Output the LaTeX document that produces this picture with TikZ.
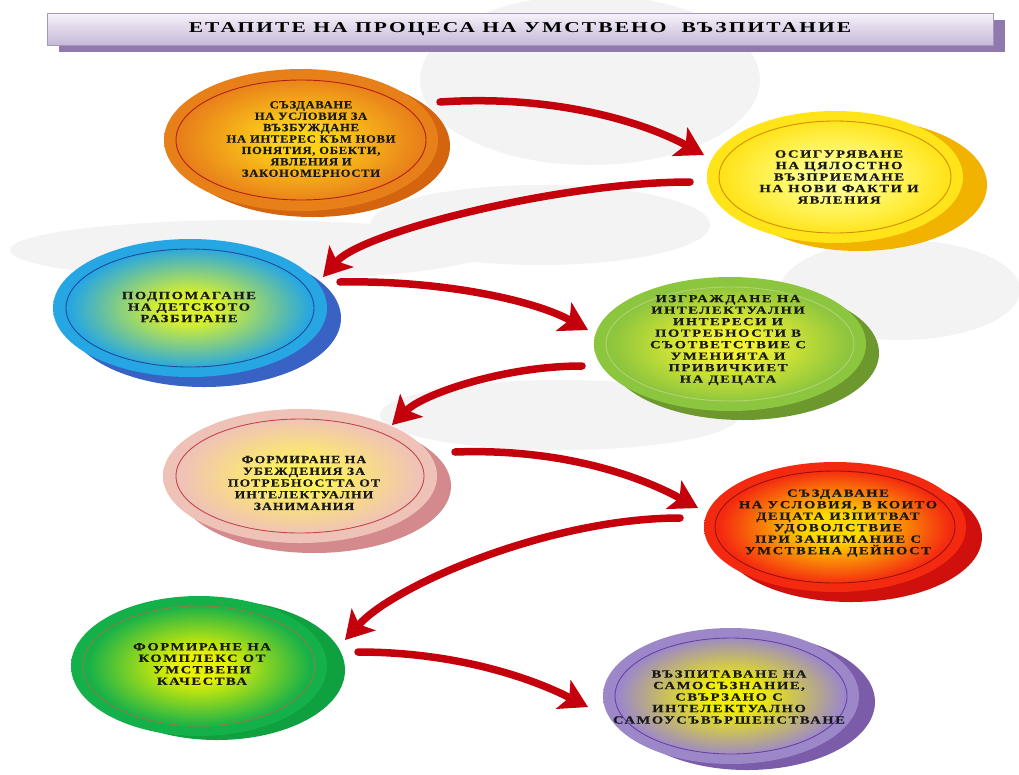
\documentclass[tikz,border=0pt]{standalone}
\usepackage{fontspec}
\setmainfont{Liberation Serif}
\newfontfamily\fontA[FakeStretch=1.15,LetterSpace=6,BoldFeatures={FakeBold=0.4}]{Liberation Serif}
\newfontfamily\fontB[FakeStretch=1.33,LetterSpace=14,BoldFeatures={FakeBold=0.4}]{Liberation Serif}
\newfontfamily\fontC[FakeStretch=1.24,LetterSpace=9.5,BoldFeatures={FakeBold=0.4}]{Liberation Serif}
\newfontfamily\titlefont[FakeStretch=1.43,LetterSpace=14]{Liberation Serif}
\usetikzlibrary{arrows.meta,calc,shadows,shapes.geometric}

\definecolor{arrred}{HTML}{C4000C}
\definecolor{ttop}{HTML}{F6F2FA}
\definecolor{tbot}{HTML}{C6B8D8}
\definecolor{tshadow}{HTML}{8F79AE}
\definecolor{tborder}{HTML}{A898BE}
\definecolor{cloud}{HTML}{F3F3F3}
% ellipse colours: in, rim, back, ring
\definecolor{ain}{HTML}{FFD21A}\definecolor{arim}{HTML}{E8801A}\definecolor{aback}{HTML}{D4650E}\definecolor{aring}{HTML}{B41E10}
\definecolor{bin}{HTML}{FFFF8C}\definecolor{brim}{HTML}{FFE41A}\definecolor{bback}{HTML}{F2B200}\definecolor{bring}{HTML}{D48C00}
\definecolor{cin}{HTML}{DCF22A}\definecolor{crim}{HTML}{26A6E2}\definecolor{cback}{HTML}{3863C4}\definecolor{cring}{HTML}{1E4C96}
\definecolor{din}{HTML}{F2F230}\definecolor{drim}{HTML}{8CC53E}\definecolor{dback}{HTML}{6D982E}\definecolor{dring}{HTML}{B4D274}
\definecolor{ein}{HTML}{FFF060}\definecolor{erim}{HTML}{EFC2B8}\definecolor{eback}{HTML}{D48A8C}\definecolor{ering}{HTML}{C24848}
\definecolor{fin}{HTML}{FFDC00}\definecolor{frim}{HTML}{F42A10}\definecolor{fback}{HTML}{CF100C}\definecolor{fring}{HTML}{9A1010}
\definecolor{gin}{HTML}{E8F200}\definecolor{grim}{HTML}{14B04A}\definecolor{gback}{HTML}{0FA040}\definecolor{gring}{HTML}{8A8040}
\definecolor{hin}{HTML}{F2F000}\definecolor{hrim}{HTML}{9C88C8}\definecolor{hback}{HTML}{7A5CA8}\definecolor{hring}{HTML}{6A40A8}

\newcommand\mkshade[3]{\pgfdeclareradialshading{#1}{\pgfpoint{0bp}{0bp}}{color(0bp)=(#2); color(5bp)=(#2); color(22bp)=(#3); color(50bp)=(#3)}}
\mkshade{sha}{ain}{arim}
\mkshade{shb}{bin}{brim}
\mkshade{shc}{cin}{crim}
\mkshade{shd}{din}{drim}
\mkshade{she}{ein}{erim}
\mkshade{shf}{fin}{frim}
\mkshade{shg}{gin}{grim}
\mkshade{shh}{hin}{hrim}

\tikzset{
  blob/.style={ellipse, inner sep=0pt, shade},
  txt/.style={inner sep=0pt, align=center, text=black!90,
    font=\fontB\bfseries\fontsize{11}{11.5}\selectfont},
  txtA/.style={txt, font=\fontA\bfseries\fontsize{11}{11.4}\selectfont},
  txtC/.style={txt, font=\fontC\bfseries\fontsize{11}{11.7}\selectfont},
  titlebox/.style={rectangle, inner sep=0pt, minimum width=946pt, minimum height=32pt,
    top color=ttop, bottom color=tbot, draw=tborder, line width=0.8pt,
    general shadow={fill=tshadow, shadow xshift=12pt, shadow yshift=-7pt},
    font=\titlefont\bfseries\fontsize{15}{17}\selectfont},
  ring/.style={line width=0.9pt},
  arr/.style={draw=arrred, line width=7.5pt, line cap=round,
    -{Stealth[length=28pt,width=33pt,inset=7pt,line width=0pt]}},
}

\begin{document}
\begin{tikzpicture}[x=1pt,y=-1pt]
\useasboundingbox (0,0) rectangle (1019,774);
\fill[white] (0,0) rectangle (1019,774);

% faint clouds in the background
\fill[cloud] (590,80) ellipse [x radius=170, y radius=85];
\fill[cloud] (250,250) ellipse [x radius=240, y radius=30];
\fill[cloud] (540,225) ellipse [x radius=170, y radius=40];
\fill[cloud] (900,290) ellipse [x radius=120, y radius=50];
\fill[cloud] (560,415) ellipse [x radius=180, y radius=35];

% title
\node[titlebox] (title) at (520,29) {ЕТАПИТЕ НА ПРОЦЕСА НА УМСТВЕНО\ \ ВЪЗПИТАНИЕ};

% stages
\node[blob, shading=sha, minimum width=274pt, minimum height=142pt,
  general shadow={fill=aback, shadow xshift=12pt, shadow yshift=-6pt}] (e1) at (301,140) {};
\draw[ring, aring] (e1.center) ellipse [x radius=125, y radius=60];
\node[txtA] (t1) at ($(e1)+(10,-1)$)
  {СЪЗДАВАНЕ\\НА УСЛОВИЯ ЗА\\ВЪЗБУЖДАНЕ\\НА ИНТЕРЕС КЪМ НОВИ\\ПОНЯТИЯ, ОБЕКТИ,\\ЯВЛЕНИЯ И\\ЗАКОНОМЕРНОСТИ};

\node[blob, shading=shb, minimum width=256pt, minimum height=132pt,
  general shadow={fill=bback, shadow xshift=24pt, shadow yshift=-8pt}] (e2) at (835,177) {};
\draw[ring, bring] (e2.center) ellipse [x radius=116, y radius=56];
\node[txt] (t2) at ($(e2)+(4,0)$)
  {ОСИГУРЯВАНЕ\\НА ЦЯЛОСТНО\\ВЪЗПРИЕМАНЕ\\НА НОВИ ФАКТИ И\\ЯВЛЕНИЯ};

\node[blob, shading=shc, minimum width=274pt, minimum height=138pt,
  general shadow={fill=cback, shadow xshift=14pt, shadow yshift=-10pt}] (e3) at (190,308) {};
\draw[ring, cring] (e3.center) ellipse [x radius=124, y radius=59];
\node[txt] (t3) at ($(e3)+(-1,-1)$) {ПОДПОМАГАНЕ\\НА ДЕТСКОТО\\РАЗБИРАНЕ};

\node[blob, shading=shd, minimum width=272pt, minimum height=134pt,
  general shadow={fill=dback, shadow xshift=13pt, shadow yshift=-9pt}] (e4) at (730,344) {};
\draw[ring, dring] (e4.center) ellipse [x radius=124, y radius=57];
\node[txt] (t4) at ($(e4)+(-2,-4)$)
  {ИЗГРАЖДАНЕ НА\\ИНТЕЛЕКТУАЛНИ\\ИНТЕРЕСИ И\\ПОТРЕБНОСТИ В\\СЪОТВЕТСТВИЕ С\\УМЕНИЯТА И\\ПРИВИЧКИЕТ\\НА ДЕЦАТА};

\node[blob, shading=she, minimum width=274pt, minimum height=134pt,
  general shadow={fill=eback, shadow xshift=14pt, shadow yshift=-10pt}] (e5) at (300,476) {};
\draw[ring, ering] (e5.center) ellipse [x radius=124, y radius=57];
\node[txtC] (t5) at ($(e5)+(4,7)$)
  {ФОРМИРАНЕ НА\\УБЕЖДЕНИЯ ЗА\\ПОТРЕБНОСТТА ОТ\\ИНТЕЛЕКТУАЛНИ\\ЗАНИМАНИЯ};

\node[blob, shading=shf, minimum width=262pt, minimum height=130pt,
  general shadow={fill=fback, shadow xshift=16pt, shadow yshift=-10pt}] (e6) at (835,527) {};
\draw[ring, fring] (e6.center) ellipse [x radius=120, y radius=56];
\node[txt] (t6) at ($(e6)+(3,-4)$)
  {СЪЗДАВАНЕ\\НА УСЛОВИЯ, В КОИТО\\ДЕЦАТА ИЗПИТВАТ\\УДОВОЛСТВИЕ\\ПРИ ЗАНИМАНИЕ С\\УМСТВЕНА ДЕЙНОСТ};

\node[blob, shading=shg, minimum width=256pt, minimum height=140pt,
  general shadow={fill=gback, shadow xshift=18pt, shadow yshift=-4pt}] (e7) at (199,666) {};
\draw[ring, gring] (e7.center) ellipse [x radius=116, y radius=60];
\node[txt] (t7) at ($(e7)+(3,-2)$) {ФОРМИРАНЕ НА\\КОМПЛЕКС ОТ\\УМСТВЕНИ\\КАЧЕСТВА};

\node[blob, shading=shh, minimum width=256pt, minimum height=136pt,
  general shadow={fill=hback, shadow xshift=16pt, shadow yshift=-6pt}] (e8) at (731,696) {};
\draw[ring, hring] (e8.center) ellipse [x radius=116, y radius=58];
\node[txt] (t8) at ($(e8)+(-2,1)$)
  {ВЪЗПИТАВАНЕ НА\\САМОСЪЗНАНИЕ,\\СВЪРЗАНО С\\ИНТЕЛЕКТУАЛНО\\САМОУСЪВЪРШЕНСТВАНЕ};

% arrows
\draw[arr] ($(e1)+(139,-38)$) .. controls +(120,-8) and +(-55,-30) .. ($(e2)+(-131,-22)$);
\draw[arr] ($(e2)+(-145,5)$) .. controls +(-130,0) and +(40,-45) .. ($(e3)+(133,-31)$);
\draw[arr] ($(e3)+(150,-26)$) .. controls +(100,-2) and +(-55,-30) .. ($(e4)+(-142,-14)$);
\draw[arr] ($(e4)+(-148,22)$) .. controls +(-80,0) and +(30,-30) .. ($(e5)+(92,-51)$);
\draw[arr] ($(e5)+(155,-24)$) .. controls +(110,-4) and +(-55,-30) .. ($(e6)+(-137,-19)$);
\draw[arr] ($(e6)+(-155,-9)$) .. controls +(-130,0) and +(50,-55) .. ($(e7)+(146,-26)$);
\draw[arr] ($(e7)+(159,-14)$) .. controls +(100,0) and +(-55,-28) .. ($(e8)+(-143,11)$);
\end{tikzpicture}
\end{document}
